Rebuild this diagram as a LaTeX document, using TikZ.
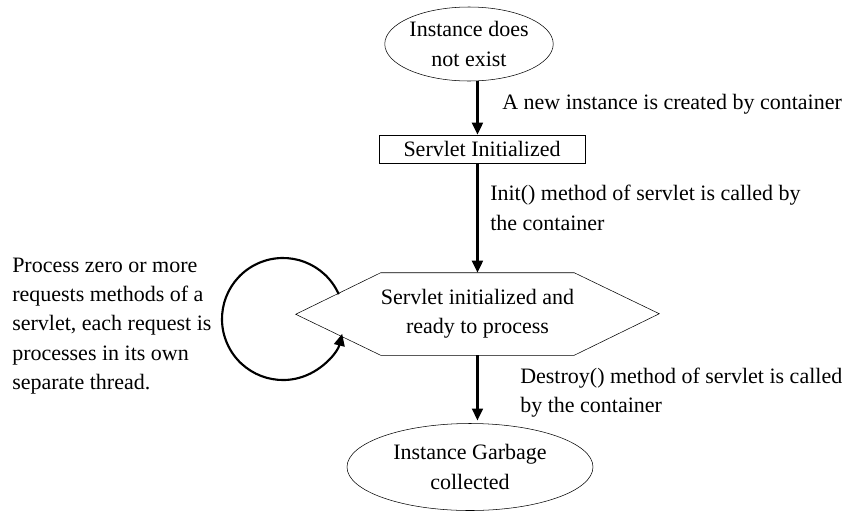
\documentclass[tikz,border=0pt]{standalone}
\usepackage{fontspec}
\setmainfont{Liberation Serif}
\usetikzlibrary{shapes.geometric,arrows.meta}
\tikzset{
  every node/.style={font=\fontsize{16.5}{22}\selectfont},
  state/.style={draw,ellipse,thin,align=center,inner sep=0pt},
  flow/.style={line width=2pt,-{Triangle[length=9pt,width=8pt]}},
  loopflow/.style={line width=1.6pt,-{Triangle[length=9pt,width=8pt]}},
  lbl/.style={align=left,anchor=west,inner sep=0pt}
}
\begin{document}
\begin{tikzpicture}
\useasboundingbox (0,0) rectangle (641.25pt,-383.25pt);

\node[state,minimum width=126pt,minimum height=55.5pt] (nexist) at (351.75pt,-33pt) {Instance does\\not exist};
\node[draw,thin,minimum width=154.5pt,minimum height=21pt,inner sep=0pt] (init) at (361.5pt,-111.75pt) {Servlet Initialized};
\node[minimum width=134.25pt,minimum height=61.5pt,align=center,inner sep=0pt] (ready) at (358.1pt,-235.5pt) {Servlet initialized and\\ready to process};
\draw[thin] (ready.north west) -- (ready.north east) -- ++(63.75pt,-30.75pt)
  -- (ready.south east) -- (ready.south west) -- ++(-63.75pt,30.75pt) -- cycle;
\node[state,minimum width=184.5pt,minimum height=65.25pt] (gc) at (352.5pt,-350.25pt) {Instance Garbage\\collected};

\draw[flow] (nexist.south -| ready) -- (init.north -| ready);
\draw[flow] (init.south -| ready) -- (ready.north);
\draw[flow] (ready.south) -- ([yshift=2pt]gc.north -| ready);

\coordinate (hub) at (212.25pt,-239.25pt);
\draw[loopflow] ([shift={(24:45.75pt)}]hub) arc[start angle=24,end angle=346,radius=45.75pt];

\node[lbl] (newlbl) at (376.5pt,-78pt) {A new instance is created by container};
\node[lbl] (initlbl) at (367.5pt,-156pt) {Init() method of servlet is called by\\the container};
\node[lbl] (destroylbl) at (390pt,-294.4pt) {Destroy() method of servlet is called\\by the container};
\node[lbl] (looplbl) at (9pt,-244.5pt) {Process zero or more\\requests methods of a\\servlet, each request is\\processes in its own\\separate thread.};
\end{tikzpicture}
\end{document}
